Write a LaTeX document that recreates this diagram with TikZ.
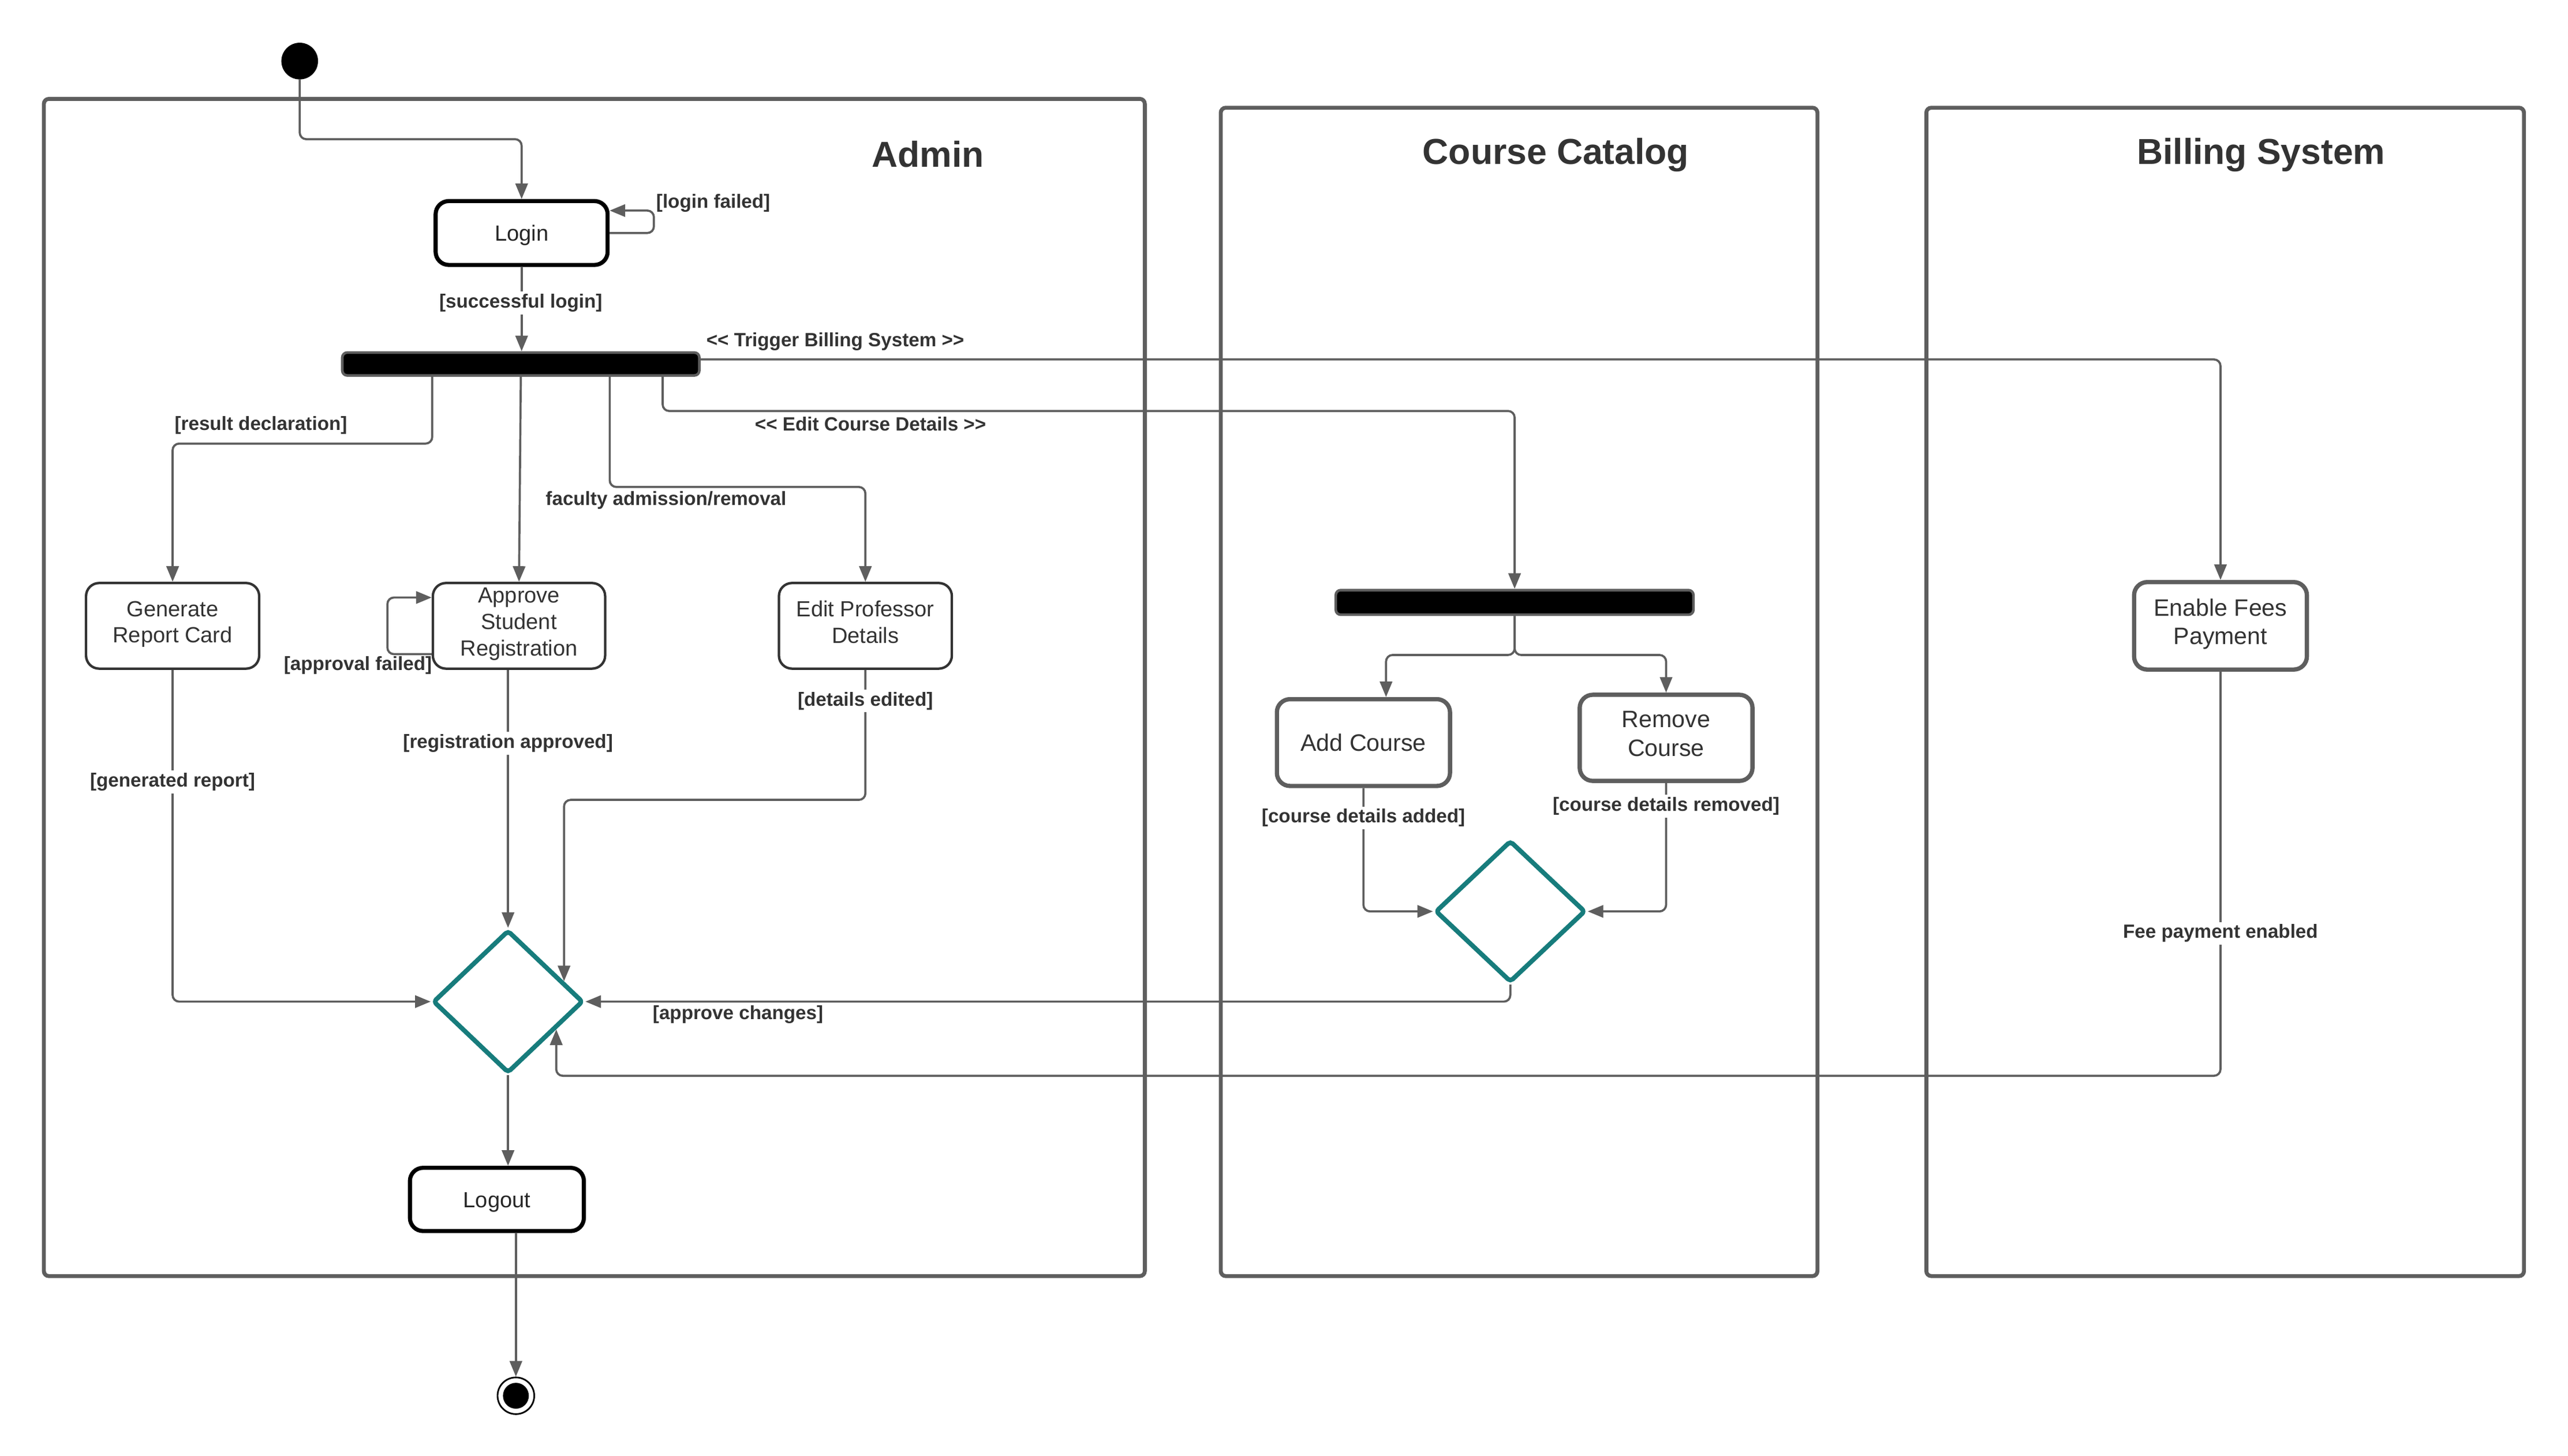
\documentclass[tikz,border=0pt]{standalone}
\usepackage{fontspec}
\setmainfont{Liberation Sans}
\usetikzlibrary{shapes.geometric,arrows.meta}
\definecolor{lgray}{HTML}{5E5E5E}
\definecolor{dtext}{HTML}{333333}
\definecolor{tealx}{HTML}{177C7C}
\begin{document}
\begin{tikzpicture}[x=1pt,y=-1pt,
  lane/.style={draw=lgray,line width=2.4pt,rounded corners=3pt},
  lanetitle/.style={font=\bfseries\fontsize{22}{26}\selectfont,text=dtext,inner sep=0pt},
  act/.style={rectangle,rounded corners=8pt,draw=dtext,line width=1.5pt,align=center,inner sep=0pt,
    font=\fontsize{13.4}{16}\selectfont,text=dtext,
    execute at begin node={\rule{0pt}{0.9\baselineskip}},execute at end node=\strut},
  actthree/.style={act,font=\fontsize{13.4}{16.3}\selectfont,
    execute at begin node={\rule{0pt}{1.15\baselineskip}}},
  actk/.style={act,draw=black,line width=2.5pt,text=black!85},
  actc/.style={act,draw=lgray,line width=2.6pt,font=\fontsize{14.5}{17.5}\selectfont},
  forkbar/.style={rectangle,fill=black,draw=lgray,line width=1.6pt,rounded corners=3pt,inner sep=0pt},
  dia/.style={diamond,draw=tealx,line width=2.8pt,minimum width=91.7pt,minimum height=87.3pt,inner sep=0pt,rounded corners=2pt},
  conn/.style={draw=lgray,line width=1.3pt,rounded corners=4pt,-{Triangle[length=9.5pt,width=7.5pt]}},
  lbl/.style={font=\bfseries\fontsize{11.7}{14}\selectfont,text=dtext,inner sep=1.5pt},
  lblw/.style={lbl,fill=white}
]
\fill[white] (0,0) rectangle (1568,888.85);
\useasboundingbox (0,0) rectangle (1568,888.85);

% swimlanes
\draw[lane] (26.8,60.4) rectangle (699,779.3);
\draw[lane] (745.4,65.8) rectangle (1109.7,779.3);
\draw[lane] (1176.2,65.8) rectangle (1541.1,779.3);
\node[lanetitle] (tadmin) at (566.5,94) {Admin};
\node[lanetitle] (tcc) at (950,94.5) {Course Catalog};
\node[lanetitle] (tbill) at (1380.6,94.5) {Billing System};

% nodes
\node[circle,fill=black,minimum size=22.4pt,inner sep=0pt] (init) at (183,37.3) {};
\node[actk,minimum width=105pt,minimum height=39pt] (login) at (318.5,142.3) {Login};
\node[forkbar,minimum width=218pt,minimum height=14pt] (bar1) at (318,222.3) {};
\node[act,minimum width=105.7pt,minimum height=52.3pt] (gen) at (105.4,382.2) {Generate\\Report Card};
\node[actthree,minimum width=105.2pt,minimum height=52.3pt] (appr) at (316.9,382.2) {Approve\\Student\\Registration};
\node[act,minimum width=105.6pt,minimum height=52.3pt] (editp) at (528.4,382.2) {Edit Professor\\Details};
\node[dia] (dia1) at (310.2,611.7) {};
\node[actk,minimum width=106.2pt,minimum height=38.6pt] (logout) at (303.4,732.5) {Logout};
\node[circle,draw=black,line width=1pt,minimum size=22.4pt,inner sep=0pt] (final) at (315,852.4) {};
\node[circle,fill=black,minimum size=15.8pt,inner sep=0pt] (finalin) at (315,852.4) {};

\node[forkbar,minimum width=218.4pt,minimum height=15pt] (bar2) at (924.8,367.9) {};
\node[actc,minimum width=105.7pt,minimum height=53pt] (addc) at (832.5,453.5) {Add Course};
\node[actc,minimum width=105.5pt,minimum height=52.6pt] (remc) at (1017.3,450.6) {Remove\\Course};
\node[dia,minimum width=91.7pt,minimum height=86.6pt] (dia2) at (922.2,556.6) {};
\node[actc,minimum width=105.5pt,minimum height=53.4pt] (fees) at (1355.8,382.2) {Enable Fees\\Payment};

% connectors
\draw[conn] (init.south) |- (250,85) -| (login.north);
\draw[conn] (login.east) -- ++(27,0) |- ([yshift=13.7pt]login.east);
\draw[conn] (login.south) -- (login.south |- bar1.north);
\draw[conn] ([xshift=-54.1pt]bar1.south) |- (180,270.9) -| (gen.north);
\draw[conn] (bar1.south) -- (appr.north);
\draw[conn] ([xshift=54.3pt]bar1.south) |- (450,297.4) -| (editp.north);
\draw[conn] ([xshift=86.6pt]bar1.south) |- (700,251) -| (bar2.north);
\draw[conn] ([yshift=2.8pt]bar1.east) -| (fees.north);
\draw[conn] ([yshift=-17.3pt]appr.west) -- ++(-27,0) |- ([yshift=17.3pt]appr.west);
\draw[conn] (gen.south) |- (dia1.west);
\draw[conn] (appr.south -| dia1.north) -- (dia1.north);
\draw[conn] (editp.south) |- (420,488.5) -| (dia1.20.7);
\draw[conn] (dia2.south) |- (dia1.east);
\draw[conn] (fees.south) |- (800,657) -| (dia1.-30.5);
\draw[conn] (dia1.south) -- (dia1.south |- logout.north);
\draw[conn] (final |- logout.south) -- (final.north);
\draw[conn] (bar2.south) |- (880,400) -| ([xshift=13.8pt]addc.north);
\draw[conn] (bar2.south) |- (970,400) -| (remc.north);
\draw[conn] (addc.south) |- (dia2.west);
\draw[conn] (remc.south) |- (dia2.east);

% labels
\node[lbl,anchor=west] (l1) at (399,124) {[login failed]};
\node[lblw] (l2) at (318,185) {[successful login]};
\node[lbl] (l3) at (510,208.5) {<{}< Trigger Billing System >{}>};
\node[lbl] (l4) at (531.5,259) {<{}< Edit Course Details >{}>};
\node[lbl] (l5) at (159.3,259.6) {[result declaration]};
\node[lbl] (l6) at (406.7,305.7) {faculty admission/removal};
\node[lbl] (l7) at (218.5,406.5) {[approval failed]};
\node[lblw] (l8) at (310.2,453.9) {[registration approved]};
\node[lblw] (l9) at (528.4,428.1) {[details edited]};
\node[lblw] (l10) at (105.4,477.6) {[generated report]};
\node[lbl] (l11) at (450.6,619.6) {[approve changes]};
\node[lblw] (l12) at (832.5,499.5) {[course details added]};
\node[lblw] (l13) at (1017.3,492.3) {[course details removed]};
\node[lblw] (l14) at (1355.8,570) {Fee payment enabled};
\end{tikzpicture}
\end{document}
